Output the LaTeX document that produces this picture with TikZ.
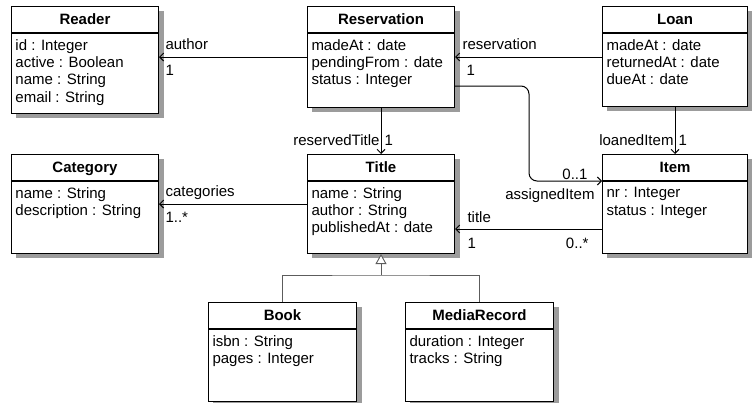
\documentclass[tikz,border=0pt]{standalone}
\usepackage{fontspec}
\setmainfont{Liberation Sans}
\usetikzlibrary{arrows.meta, positioning}
\definecolor{cshadow}{HTML}{9C9C9C}
\definecolor{cgen}{HTML}{5C5C5C}
\newcommand{\umlfont}{\fontsize{15pt}{17.25pt}\selectfont}
\tikzset{
  every picture/.style={line width=1pt},
  classhead/.style={draw, fill=white, anchor=north west, minimum height=26pt, inner sep=0pt,
                    text height=12pt, text depth=2pt, font=\umlfont\bfseries},
  classbody/.style={draw, fill=white, inner sep=0pt},
  classattr/.style={anchor=north west, align=left, inner xsep=4pt, inner ysep=6pt, font=\umlfont,
                    execute at begin node={\rule{0pt}{11pt}}},
  classshadow/.style={fill=cshadow, draw=none, anchor=north west, inner sep=0pt, xshift=4pt, yshift=-4pt},
  assoc/.style={-{Straight Barb[length=4pt, width=8pt]}, line width=1pt},
  gen/.style={draw=cgen, line width=0.9pt},
  rolelabel/.style={font=\umlfont, inner sep=0pt},
}
% name, top left corner, width, title, attributes, body height
\newcommand{\classbox}[6]{%
  \node[classshadow, minimum width=#3+1pt, minimum height=27pt+#6] (#1-shadow) at #2 {};
  \node[classhead, minimum width=#3] (#1) at #2 {#4};
  \node[classbody, minimum width=#3, minimum height=#6, below=0pt of #1] (#1-body) {};
  \node[classattr] (#1-attr) at (#1-body.north west) {#5};
}

\begin{document}
\begin{tikzpicture}[x=1pt, y=-1pt]
  \useasboundingbox (0,0) rectangle (752,402);
  % ---- classes ----
  \classbox{reader}{(11,6)}{147pt}{Reader}{id : Integer\\active : Boolean\\name : String\\email : String}{80pt}
  \classbox{reservation}{(307,6)}{147pt}{Reservation}{madeAt : date\\pendingFrom : date\\status : Integer}{74pt}
  \classbox{loan}{(602,6)}{145pt}{Loan}{madeAt : date\\returnedAt : date\\dueAt : date}{73pt}
  \classbox{category}{(11,154)}{147pt}{Category}{name : String\\description : String}{72pt}
  \classbox{title}{(307,154)}{147pt}{Title}{name : String\\author : String\\publishedAt : date}{72pt}
  \classbox{item}{(602,154)}{145pt}{Item}{nr : Integer\\status : Integer}{72pt}
  \classbox{book}{(208,302)}{148pt}{Book}{isbn : String\\pages : Integer}{72pt}
  \classbox{mediarecord}{(405,302)}{148pt}{MediaRecord}{duration : Integer\\tracks : String}{72pt}
  % ---- associations ----
  \draw[assoc] ([yshift=-24pt]reservation-body.north west) -- ([yshift=-24pt]reader-body.north east)
    node[rolelabel, pos=1, anchor=base west, xshift=6pt, yshift=8pt] (author-role) {author}
    node[rolelabel, pos=1, anchor=base west, xshift=6pt, yshift=-18pt] (author-mult) {1};
  \draw[assoc] ([yshift=-24pt]loan-body.north west) -- ([yshift=-24pt]reservation-body.north east)
    node[rolelabel, pos=1, anchor=base west, xshift=7pt, yshift=8pt] (reservation-role) {reservation}
    node[rolelabel, pos=1, anchor=base west, xshift=11pt, yshift=-18pt] (reservation-mult) {1};
  \draw[assoc] (reservation-body.south) -- (title.north)
    node[rolelabel, pos=1, anchor=base east, xshift=-1pt, yshift=9pt] (title-role) {reservedTitle}
    node[rolelabel, pos=1, anchor=base west, xshift=3pt, yshift=9pt] (title-mult) {1};
  \draw[assoc] (loan-body.south) -- (item.north)
    node[rolelabel, pos=1, anchor=base east, xshift=-1pt, yshift=9pt] (item-role) {loanedItem}
    node[rolelabel, pos=1, anchor=base west, xshift=3pt, yshift=9pt] (item-mult) {1};
  % reservation to its assigned item, routed round the corner
  \coordinate (bend) at ([xshift=-73pt]item.south west);
  \draw[assoc, rounded corners=8pt] ([yshift=-53pt]reservation-body.north east) -| (bend) -- (item.south west)
    node[rolelabel, pos=1, anchor=base east, xshift=-14pt, yshift=2pt] (assigned-mult) {0..1}
    node[rolelabel, pos=1, anchor=base east, xshift=-7pt, yshift=-18pt] (assigned-role) {assignedItem};
  \draw[assoc] ([yshift=-48pt]item-body.north west) -- ([yshift=-48pt]title-body.north east)
    node[rolelabel, pos=1, anchor=base west, xshift=12pt, yshift=7pt] (itemtitle-role) {title}
    node[rolelabel, pos=1, anchor=base west, xshift=12pt, yshift=-19pt] (itemtitle-mult) {1}
    node[rolelabel, pos=0, anchor=base east, xshift=-13pt, yshift=-19pt] (items-mult) {0..*};
  \draw[assoc] ([yshift=-23pt]title-body.north west) -- ([yshift=-23pt]category-body.north east)
    node[rolelabel, pos=1, anchor=base west, xshift=6pt, yshift=8pt] (categories-role) {categories}
    node[rolelabel, pos=1, anchor=base west, xshift=6pt, yshift=-18pt] (categories-mult) {1..*};
  % ---- generalisation ----
  \coordinate (genjoin) at ([yshift=-21pt]title-body.south);
  \draw[gen] (book.north) |- (genjoin) -| (mediarecord.north);
  \draw[gen, -{Triangle[open, length=10pt, width=11pt, fill=white]}] (genjoin) -- (title-body.south);
\end{tikzpicture}
\end{document}
